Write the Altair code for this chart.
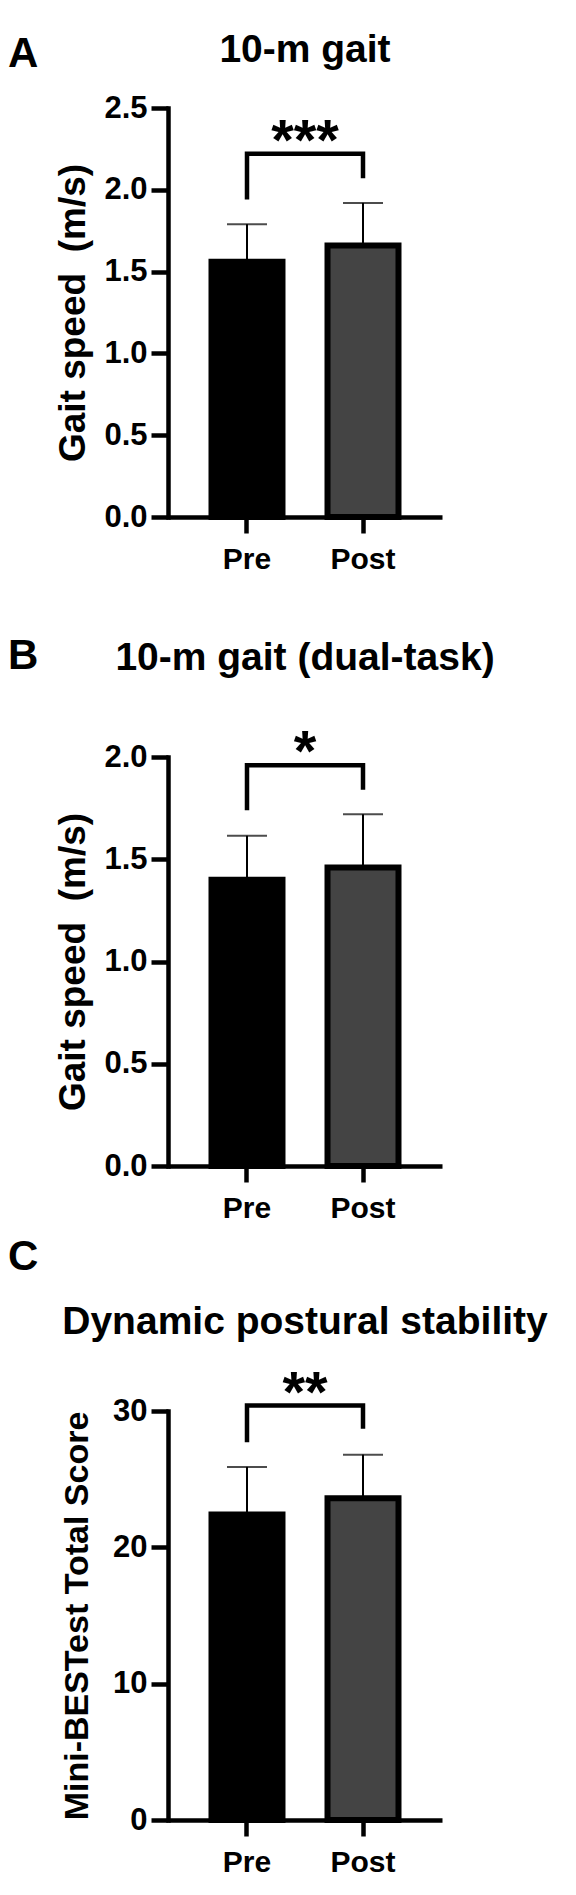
import altair as alt
import pandas as pd

# ---------------- data ----------------
groups = ["Pre", "Post"]
fills = ["#000000", "#444444"]

letters = ["A", "B", "C"]
titles = ["10-m gait", "10-m gait (dual-task)", "Dynamic postural stability"]
y_titles = ["Gait speed\u00a0 (m/s)", "Gait speed\u00a0 (m/s)", "Mini-BESTest Total Score"]

a_mean = [1.56, 1.66]
a_upper = [1.79, 1.92]
b_mean = [1.40, 1.46]
b_upper = [1.615, 1.72]
c_mean = [22.4, 23.6]
c_upper = [25.9, 26.8]

a_ticks = [0.0, 0.5, 1.0, 1.5, 2.0, 2.5]
b_ticks = [0.0, 0.5, 1.0, 1.5, 2.0]
c_ticks = [0, 10, 20, 30]

a_bracket, a_legs, a_star_y, a_stars = 2.22, [1.94, 2.07], 2.38, "***"
b_bracket, b_legs, b_star_y, b_stars = 1.96, [1.74, 1.84], 2.09, "*"
c_bracket, c_legs, c_star_y, c_stars = 30.4, [27.7, 28.7], 32.3, "**"

FONT = "Liberation Sans"
W, H = 274, 409


def panel(letter, title, ytitle, mean, upper, ticks, fmt, bracket, legs, star_y, stars,
          title_x, ytitle_size, title_dy, letter_dy):
    df = pd.DataFrame({"group": groups, "mean": mean, "upper": upper, "fill": fills})
    br = pd.DataFrame({
        "group": [groups[0], groups[0], groups[1], groups[1]],
        "y": [legs[0], bracket, bracket, legs[1]],
        "o": [0, 1, 2, 3],
    })
    st = pd.DataFrame({"t": [stars], "y": [star_y]})
    tt = pd.DataFrame({"t": [title]})
    lt = pd.DataFrame({"t": [letter]})

    xscale = alt.Scale(domain=groups, paddingInner=0.388, paddingOuter=0.375)
    xaxis = alt.Axis(title=None, labelAngle=0, labelFont=FONT, labelFontSize=30,
                     labelFontWeight="bold", labelColor="black", labelPadding=11,
                     tickSize=16, tickWidth=4.5, tickColor="black",
                     domainColor="black", domainWidth=4.5)
    yscale = alt.Scale(domain=[ticks[0], ticks[-1]], nice=False)
    yaxis = alt.Axis(values=ticks, format=fmt, grid=False, labelFont=FONT, labelFontSize=31,
                     labelFontWeight="bold", labelColor="black", labelPadding=4,
                     labelFlush=False, tickSize=17, tickWidth=4.5, tickColor="black",
                     domainColor="black", domainWidth=4.5, domainCap="square",
                     title=ytitle, titleFont=FONT, titleFontSize=ytitle_size,
                     titleFontWeight="bold",
                     titleColor="black", titleAngle=270, titleX=title_x, titleY=H / 2,
                     titleAlign="center", titleBaseline="alphabetic")

    x = alt.X("group:N", scale=xscale, sort=groups, axis=xaxis)
    base = alt.Chart(df)
    bars = base.mark_bar(stroke="black", strokeWidth=6, strokeJoin="miter").encode(
        x=x,
        y=alt.Y("mean:Q", scale=yscale, axis=yaxis),
        color=alt.Color("fill:N", scale=None),
    )
    err = base.mark_rule(color="black", strokeWidth=2).encode(
        x=alt.X("group:N", sort=groups), y="mean:Q", y2="upper:Q")
    cap = base.mark_tick(color="black", size=40, thickness=2).encode(
        x=alt.X("group:N", sort=groups), y="upper:Q")
    bline = alt.Chart(br).mark_line(color="black", strokeWidth=4.5, strokeJoin="miter",
                                    strokeCap="butt").encode(
        x=alt.X("group:N", sort=groups), y="y:Q", order="o:Q")
    star = alt.Chart(st).mark_text(font=FONT, fontSize=58, fontWeight="bold", color="black",
                                   baseline="alphabetic", dy=32).encode(
        x=alt.value(W / 2), y="y:Q", text="t:N")
    ttl = alt.Chart(tt).mark_text(font=FONT, fontSize=39, fontWeight="bold", color="black",
                                  align="center", baseline="alphabetic").encode(
        x=alt.value(W / 2), y=alt.value(title_dy), text="t:N")
    let = alt.Chart(lt).mark_text(font=FONT, fontSize=42, fontWeight="bold", color="black",
                                  align="left", baseline="alphabetic").encode(
        x=alt.value(-160), y=alt.value(letter_dy), text="t:N")
    return alt.layer(bars, err, cap, bline, star, ttl, let).properties(width=W, height=H)


pA = panel(letters[0], titles[0], y_titles[0], a_mean, a_upper, a_ticks, ".1f",
           a_bracket, a_legs, a_star_y, a_stars, -84, 37, -46, -41)
pB = panel(letters[1], titles[1], y_titles[1], b_mean, b_upper, b_ticks, ".1f",
           b_bracket, b_legs, b_star_y, b_stars, -84, 37, -87, -88)
pC = panel(letters[2], titles[2], y_titles[2], c_mean, c_upper, c_ticks, "d",
           c_bracket, c_legs, c_star_y, c_stars, -81, 34, -77, -141)

top_two = alt.vconcat(pA, pB, spacing=61)
chart = alt.vconcat(top_two, pC, spacing=13).properties(
    padding={"left": 8, "top": 31, "right": 0, "bottom": 0}
).configure_view(stroke=None)

chart.save("out.html", embed_options={"renderer": "svg", "actions": False})
